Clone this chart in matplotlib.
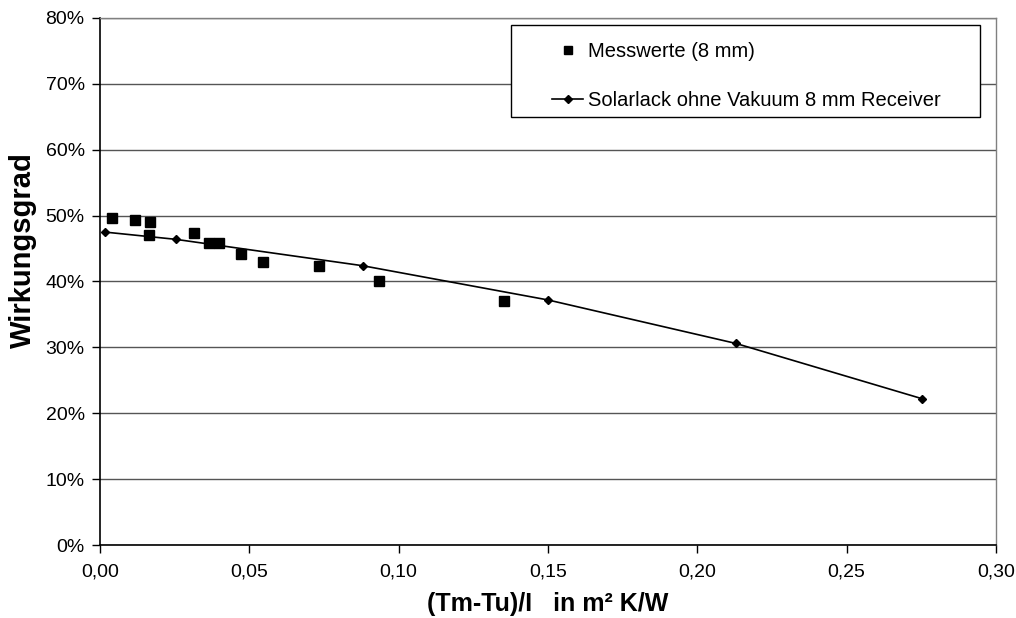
import matplotlib
matplotlib.use("Agg")
import matplotlib.pyplot as plt
from matplotlib.patches import Rectangle
from matplotlib.ticker import FuncFormatter, PercentFormatter

# Messwerte (8 mm)
mess_x = [0.0040, 0.0116, 0.0166, 0.0164, 0.0315, 0.0365, 0.0397, 0.0473, 0.0547, 0.0732, 0.0935, 0.1353]
mess_y = [0.496, 0.493, 0.490, 0.470, 0.473, 0.458, 0.458, 0.442, 0.429, 0.423, 0.401, 0.371]

# Solarlack ohne Vakuum 8 mm Receiver
calc_x = [0.0017, 0.0254, 0.0879, 0.1500, 0.2129, 0.2753]
calc_y = [0.475, 0.464, 0.424, 0.372, 0.306, 0.222]

x_ticks = [0.00, 0.05, 0.10, 0.15, 0.20, 0.25, 0.30]
y_ticks = [0.0, 0.1, 0.2, 0.3, 0.4, 0.5, 0.6, 0.7, 0.8]

plt.rcParams["font.family"] = ["Liberation Sans", "DejaVu Sans"]

fig = plt.figure(figsize=(10.16, 6.18), dpi=100)
ax = fig.add_axes([0.0984, 0.1181, 0.8819, 0.8528])

ax.plot(calc_x, calc_y, color="black", lw=1.2, marker="D", ms=4.5,
        label="Solarlack ohne Vakuum 8 mm Receiver", zorder=3)
ax.plot(mess_x, mess_y, ls="none", marker="s", ms=7.5, color="black",
        label="Messwerte (8 mm)", zorder=4)

ax.set_xlim(0, 0.30)
ax.set_ylim(0, 0.80)
ax.set_xticks(x_ticks)
ax.set_yticks(y_ticks)
ax.xaxis.set_major_formatter(FuncFormatter(lambda v, p: f"{v:.2f}".replace(".", ",")))
ax.yaxis.set_major_formatter(PercentFormatter(1.0, decimals=0))
ax.tick_params(axis="both", labelsize=14, length=6, width=1, direction="out", color="black")
ax.tick_params(axis="x", pad=7)
ax.tick_params(axis="y", pad=5)

ax.grid(axis="y", color="#555555", lw=1)
ax.set_axisbelow(True)
for s in ["left", "bottom"]:
    ax.spines[s].set_color("black")
    ax.spines[s].set_linewidth(1.2)
for s in ["top", "right"]:
    ax.spines[s].set_color("#808080")
    ax.spines[s].set_linewidth(1)

ax.set_ylabel("Wirkungsgrad", fontsize=21, fontweight="bold")
ax.yaxis.set_label_coords(-0.070, 0.56)
ax.set_xlabel("(Tm-Tu)/I   in m² K/W", fontsize=18, fontweight="bold")
ax.xaxis.set_label_coords(0.5, -0.090)

# legend box (Excel style, wide padding on the sides)
ax.add_patch(Rectangle((0.4587, 0.8121), 0.5234, 0.1746, transform=ax.transAxes,
                       facecolor="white", edgecolor="black", lw=1, zorder=5))
h, l = ax.get_legend_handles_labels()
leg = ax.legend(h[::-1], l[::-1], loc="upper left", bbox_to_anchor=(0.5045, 0.954),
                fontsize=14.5, frameon=False, borderpad=0, labelspacing=1.5,
                handlelength=1.55, handletextpad=0.25, borderaxespad=0, markerscale=0.8)
leg.set_zorder(6)

fig.savefig("out.png", dpi=100)
